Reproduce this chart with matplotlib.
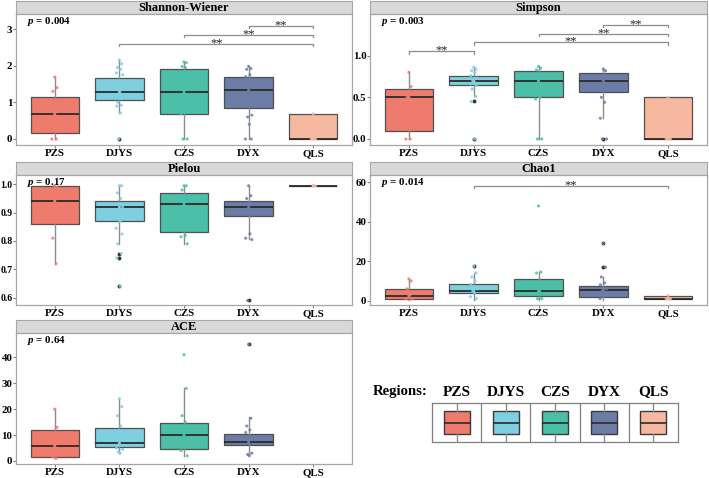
import numpy as np
import matplotlib
matplotlib.use("Agg")
import matplotlib.pyplot as plt

plt.rcParams['font.family'] = ['Liberation Serif', 'DejaVu Serif']
plt.rcParams['font.weight'] = 'bold'
plt.rcParams['mathtext.fontset'] = 'custom'
plt.rcParams['mathtext.it'] = 'Liberation Serif:italic:bold'
plt.rcParams['mathtext.rm'] = 'Liberation Serif:bold'

groups = ['PZS', 'DJYS', 'CZS', 'DYX', 'QLS']
colores = ['#EE7B6B', '#7ECFE0', '#4BBFA7', '#6B7DA6', '#F7B8A0']

# ---- Shannon-Wiener ----
sh_q1 = [0.15, 1.07, 0.68, 0.85, 0.0]
sh_med = [0.68, 1.27, 1.27, 1.33, 0.0]
sh_q3 = [1.15, 1.66, 1.91, 1.69, 0.69]
sh_lo = [0.0, 0.71, 0.0, 0.0, 0.0]
sh_hi = [1.69, 2.15, 2.10, 1.98, 0.69]
sh_out = [[], [0.0], [], [], []]
sh_pts = [[1.69, 1.40, 1.30, 0.0, 0.0],
          [2.15, 2.05, 1.95, 1.90, 1.80, 1.75, 1.35, 1.30, 1.20, 1.10, 1.00, 0.92, 0.90, 0.71, 0.0],
          [2.10, 2.08, 1.98, 1.95, 0.68, 0.0, 0.0],
          [1.98, 1.92, 1.90, 1.75, 1.70, 0.65, 0.60, 0.40, 0.0, 0.0],
          [0.69, 0.0, 0.0]]
sh_sig = [(2, 5, 2.59), (3, 5, 2.85), (4, 5, 3.09)]

# ---- Simpson ----
si_q1 = [0.10, 0.65, 0.50, 0.56, 0.0]
si_med = [0.50, 0.70, 0.70, 0.70, 0.0]
si_q3 = [0.60, 0.76, 0.82, 0.79, 0.50]
si_lo = [0.0, 0.51, 0.0, 0.25, 0.0]
si_hi = [0.80, 0.86, 0.87, 0.84, 0.50]
si_out = [[], [0.45, 0.0], [], [0.0], []]
si_pts = [[0.80, 0.63, 0.50, 0.0, 0.0],
          [0.86, 0.84, 0.82, 0.80, 0.76, 0.73, 0.70, 0.68, 0.66, 0.64, 0.60, 0.51, 0.45, 0.0],
          [0.87, 0.85, 0.83, 0.50, 0.48, 0.0, 0.0],
          [0.84, 0.82, 0.50, 0.44, 0.25, 0.0, 0.0],
          [0.50, 0.0, 0.0]]
si_sig = [(1, 2, 1.05), (2, 5, 1.16), (3, 5, 1.26), (4, 5, 1.37)]

# ---- Pielou ----
pi_q1 = [0.860, 0.872, 0.833, 0.889, 0.995]
pi_med = [0.942, 0.919, 0.929, 0.919, 0.995]
pi_q3 = [0.994, 0.942, 0.971, 0.942, 0.995]
pi_lo = [0.72, 0.79, 0.79, 0.807, 0.995]
pi_hi = [0.995, 0.995, 0.995, 0.995, 0.995]
pi_out = [[], [0.755, 0.74, 0.64], [], [0.59], []]
pi_pts = [[0.995, 0.99, 0.81, 0.72],
          [0.995, 0.995, 0.97, 0.95, 0.93, 0.92, 0.90, 0.87, 0.845, 0.825, 0.79, 0.755, 0.74, 0.64],
          [0.995, 0.995, 0.98, 0.82, 0.815, 0.79],
          [0.995, 0.96, 0.95, 0.825, 0.81, 0.805, 0.59],
          [0.995, 0.995]]

# ---- Chao1 ----
ch_q1 = [0.85, 3.7, 2.5, 2.0, 0.85]
ch_med = [2.5, 5.1, 4.7, 5.4, 0.85]
ch_q3 = [5.7, 8.3, 10.8, 7.4, 2.6]
ch_lo = [0.5, 0.5, 0.5, 0.5, 0.85]
ch_hi = [11.0, 13.9, 14.4, 11.8, 2.6]
ch_out = [[], [17.5], [], [29.0, 17.0], []]
ch_pts = [[11, 10, 6, 3, 1, 0.8],
          [17.5, 14, 12, 10, 8, 6, 5, 4, 2, 1],
          [48, 14.5, 14, 5, 3, 1, 1],
          [29, 17, 12, 9, 8, 6, 5, 3, 1],
          [2.6, 1, 1]]
ch_sig = [(2, 5, 58.3)]

# ---- ACE (sin datos para QLS) ----
ac_q1 = [1.7, 5.5, 4.8, 6.0]
ac_med = [5.8, 6.8, 10.0, 7.3]
ac_q3 = [12.0, 12.9, 14.8, 10.4]
ac_lo = [1.0, 3.2, 2.0, 2.3]
ac_hi = [20.0, 24.0, 28.0, 16.8]
ac_out = [[], [], [], [45.0]]
ac_pts = [[20, 13, 1.5, 1],
          [24, 21, 17.5, 13.5, 5, 4.5, 3.5, 3],
          [41, 28, 17.5, 15, 4, 2],
          [45, 16.5, 13.5, 12, 11, 3, 2.5, 2]]

W, H = 709, 478
fig = plt.figure(figsize=(W / 100, H / 100), dpi=100)


def px(x0, y0, x1, y1):
    return [x0 / W, 1 - y1 / H, (x1 - x0) / W, (y1 - y0) / H]


jit = [0.0, 0.035, -0.03, 0.02, -0.045, 0.05, -0.015, 0.01, -0.05, 0.04, -0.025, 0.03, -0.04, 0.015, -0.01]


def panel(x0, x1, y0, y1, titulo, q1, med, q3, lo, hi, out, pts, ylim, ticks, ticklab, pval, sig=(), yfs=7.8):
    # strip
    st = fig.add_axes(px(x0, y0 - 13.5, x1, y0))
    st.set_facecolor('#D9D9D9')
    st.set_xticks([]); st.set_yticks([])
    for s in st.spines.values():
        s.set_color('#A6A6A6'); s.set_linewidth(0.8)
    st.text(0.5, 0.45, titulo, ha='center', va='center', fontsize=9, fontweight='bold', transform=st.transAxes)

    ax = fig.add_axes(px(x0, y0, x1, y1))
    n = len(q1)
    stats = []
    for i in range(n):
        stats.append(dict(q1=q1[i], med=med[i], q3=q3[i], whislo=lo[i], whishi=hi[i], fliers=out[i]))
    bp = ax.bxp(stats, positions=range(1, n + 1), widths=0.75, patch_artist=True, showfliers=True,
                boxprops=dict(edgecolor='#505050', linewidth=0.9),
                medianprops=dict(color='#2b2b2b', linewidth=1.3),
                whiskerprops=dict(color='#8c8c8c', linewidth=1.0),
                capprops=dict(linewidth=0),
                flierprops=dict(marker='o', markersize=2.8, markerfacecolor='#333333', markeredgecolor='none'),
                zorder=2)
    for i, b in enumerate(bp['boxes']):
        b.set_facecolor(colores[i])
    for i in range(n):
        xs = [i + 1 + jit[k % len(jit)] for k in range(len(pts[i]))]
        ax.scatter(xs, pts[i], s=5, color=colores[i], alpha=0.85, edgecolors='none', zorder=3)
        ax.scatter([i + 1], [med[i]], s=5, color=colores[i], edgecolors='none', zorder=4)

    rng = ylim[1] - ylim[0]
    for a, b, y in sig:
        t = 0.018 * rng
        ax.plot([a, a, b, b], [y - t, y, y, y - t], color='#8c8c8c', linewidth=0.9)
        ax.annotate('**', ((a + b) / 2, y), xytext=(0, 0.5), textcoords='offset points',
                    ha='center', va='center', fontsize=9, fontweight='normal', color='#222222')

    ax.set_xlim(0.4, 5.6)
    ax.set_ylim(*ylim)
    ax.set_xticks(range(1, 6))
    ax.set_xticklabels(groups, fontsize=7.8, fontweight='bold')
    ax.set_yticks(ticks)
    ax.set_yticklabels(ticklab, fontsize=yfs, fontweight='bold')
    ax.tick_params(length=2, width=0.8, color='#7f7f7f', pad=1)
    ax.tick_params(axis='y', pad=0.6)
    for s in ax.spines.values():
        s.set_color('#A6A6A6'); s.set_linewidth(0.9)
    ax.text(0.033, 0.945, r'$p$ = ' + pval, transform=ax.transAxes, ha='left', va='center', fontsize=7.8)
    return ax


panel(16, 352, 14, 145, 'Shannon-Wiener', sh_q1, sh_med, sh_q3, sh_lo, sh_hi, sh_out, sh_pts,
      (-0.164, 3.41), [0, 1, 2, 3], ['0', '1', '2', '3'], '0.004', sh_sig)
panel(370, 707, 14, 145, 'Simpson', si_q1, si_med, si_q3, si_lo, si_hi, si_out, si_pts,
      (-0.072, 1.50), [0, 0.5, 1.0], ['0.0', '0.5', '1.0'], '0.003', si_sig)
panel(16, 352, 175, 305, 'Pielou', pi_q1, pi_med, pi_q3, pi_lo, pi_hi, pi_out, pi_pts,
      (0.574, 1.033), [0.6, 0.7, 0.8, 0.9, 1.0], ['0.6', '0.7', '0.8', '0.9', '1.0'], '0.17', yfs=7.0)
panel(370, 707, 175, 305, 'Chao1', ch_q1, ch_med, ch_q3, ch_lo, ch_hi, ch_out, ch_pts,
      (-2.2, 63.7), [0, 20, 40, 60], ['0', '20', '40', '60'], '0.014', ch_sig)
panel(16, 352, 333, 464, 'ACE', ac_q1, ac_med, ac_q3, ac_lo, ac_hi, ac_out, ac_pts,
      (-1.16, 49.4), [0, 10, 20, 30, 40], ['0', '10', '20', '30', '40'], '0.64')

# ---- leyenda ----
lg = fig.add_axes(px(432, 403, 678, 442))
kst = [dict(q1=0.205, med=0.5, q3=0.795, whislo=0.0, whishi=1.0, fliers=[]) for g in groups]
lb = lg.bxp(kst, positions=[0.5, 1.5, 2.5, 3.5, 4.5], widths=0.53, patch_artist=True, showfliers=False,
            boxprops=dict(edgecolor='#3a3a3a', linewidth=1.0),
            medianprops=dict(color='#2b2b2b', linewidth=1.2),
            whiskerprops=dict(color='#8c8c8c', linewidth=1.0),
            capprops=dict(linewidth=0))
for i, b in enumerate(lb['boxes']):
    b.set_facecolor(colores[i])
for k in range(1, 5):
    lg.axvline(k, color='#7f7f7f', linewidth=0.9)
lg.set_xlim(0, 5)
lg.set_ylim(0, 1)
lg.set_xticks([]); lg.set_yticks([])
for s in lg.spines.values():
    s.set_color('#7f7f7f'); s.set_linewidth(0.9)
for i, g in enumerate(groups):
    lg.text(i + 0.5, 1.28, g, ha='center', va='center', fontsize=11, fontweight='bold', clip_on=False)
fig.text(428 / W, 1 - 392 / H, 'Regions:', ha='right', va='center', fontsize=10.6, fontweight='bold')

fig.savefig('out.png', dpi=100)
